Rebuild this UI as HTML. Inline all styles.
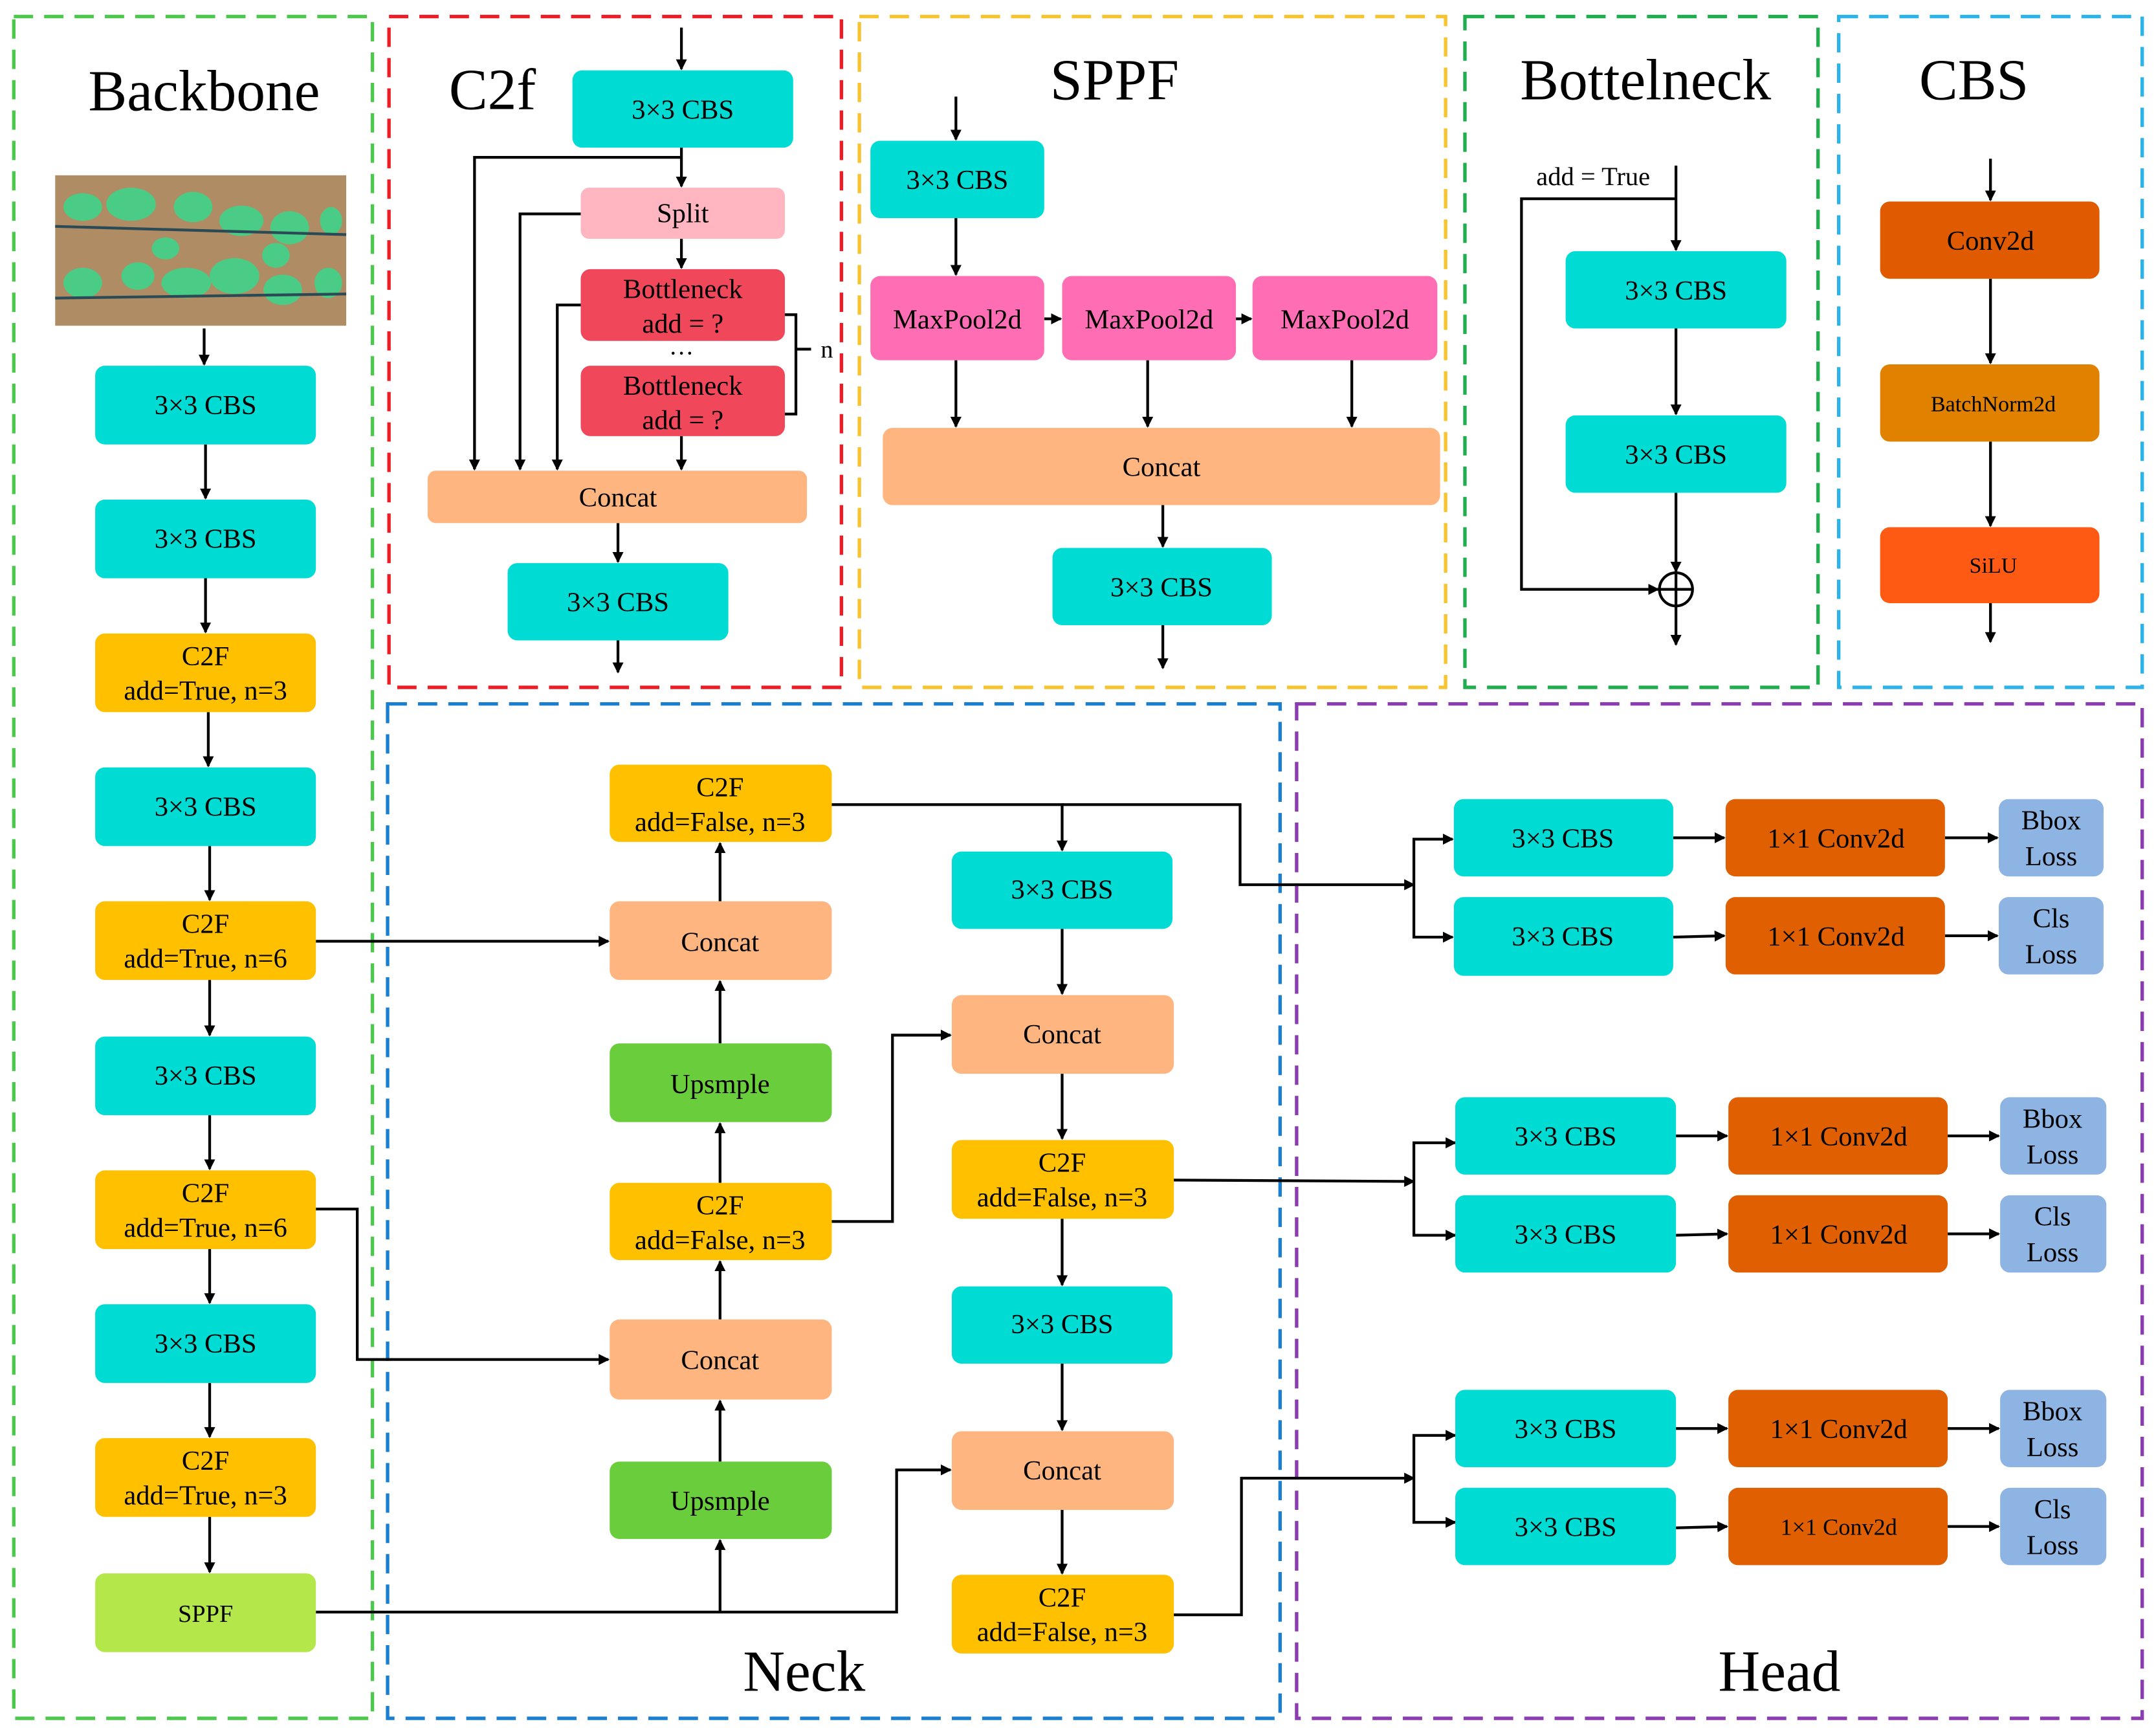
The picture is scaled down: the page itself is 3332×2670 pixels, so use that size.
<!DOCTYPE html>
<html><head><meta charset="utf-8"><style>html,body{margin:0;padding:0;background:#fff}svg{display:block}text{font-family:"Liberation Serif",serif}</style></head>
<body>
<svg xmlns="http://www.w3.org/2000/svg" width="3332" height="2670" viewBox="0 0 1563 1252" preserveAspectRatio="none" font-family="'Liberation Serif', serif">
<defs>
<marker id="a" markerWidth="8" markerHeight="8" refX="7" refY="4" orient="auto" markerUnits="userSpaceOnUse"><path d="M0,0 L8,4 L0,8 z" fill="#000"/></marker>
</defs>
<rect width="1563" height="1252" fill="#fff"/>
<g fill="none" stroke-width="2.5" stroke-dasharray="14,8">
<rect x="10" y="12" width="260" height="1233" stroke="#4cc94c"/>
<rect x="282" y="12" width="328" height="486" stroke="#ee1c24"/>
<rect x="623" y="12" width="425" height="486" stroke="#f7c32e"/>
<rect x="1062" y="12" width="256" height="486" stroke="#1eae4e"/>
<rect x="1333" y="12" width="220" height="486" stroke="#2bb3ea"/>
<rect x="281" y="510" width="647" height="735" stroke="#1a7fd1"/>
<rect x="940" y="510" width="613" height="735" stroke="#8a3cb0"/>
</g>
<g font-size="42" text-anchor="middle" fill="#000">
<text x="148" y="80">Backbone</text>
<text x="357" y="79">C2f</text>
<text x="808" y="72">SPPF</text>
<text x="1193" y="72">Bottelneck</text>
<text x="1431" y="72">CBS</text>
<text x="583" y="1225">Neck</text>
<text x="1290" y="1225">Head</text>
</g>
<!-- image -->
<rect x="40" y="127" width="211" height="109" fill="#b08c64"/>
<g fill="#3fd28a" opacity="0.9">
<ellipse cx="60" cy="150" rx="14" ry="10"/><ellipse cx="95" cy="148" rx="18" ry="12"/><ellipse cx="140" cy="150" rx="14" ry="11"/><ellipse cx="175" cy="160" rx="16" ry="11"/><ellipse cx="210" cy="165" rx="14" ry="12"/><ellipse cx="240" cy="160" rx="8" ry="10"/>
<ellipse cx="60" cy="205" rx="14" ry="11"/><ellipse cx="100" cy="200" rx="12" ry="10"/><ellipse cx="135" cy="205" rx="18" ry="11"/><ellipse cx="170" cy="200" rx="18" ry="13"/><ellipse cx="205" cy="210" rx="14" ry="11"/><ellipse cx="238" cy="205" rx="10" ry="11"/><ellipse cx="120" cy="180" rx="10" ry="8"/><ellipse cx="200" cy="185" rx="10" ry="9"/>
</g>
<line x1="40" y1="164" x2="251" y2="170" stroke="#2a4a55" stroke-width="2"/>
<line x1="40" y1="216" x2="251" y2="213" stroke="#2a4a55" stroke-width="2"/>
<g stroke="#000" stroke-width="2" fill="none" marker-end="url(#a)">
<line x1="148" y1="238" x2="148" y2="264"/>
<line x1="149" y1="322" x2="149" y2="361"/>
<line x1="149" y1="419" x2="149" y2="458"/>
<line x1="151" y1="516" x2="151" y2="555"/>
<line x1="152" y1="613" x2="152" y2="652"/>
<line x1="152" y1="710" x2="152" y2="750"/>
<line x1="152" y1="808" x2="152" y2="847"/>
<line x1="152" y1="905" x2="152" y2="944"/>
<line x1="152" y1="1002" x2="152" y2="1041"/>
<line x1="152" y1="1099" x2="152" y2="1139"/>
<line x1="494" y1="20" x2="494" y2="50"/>
<line x1="494" y1="107" x2="494" y2="135"/>
<polyline points="494,114 344,114 344,340"/>
<polyline points="421,155 377,155 377,340"/>
<polyline points="421,221 404,221 404,340"/>
<line x1="494" y1="173" x2="494" y2="194"/>
<line x1="494" y1="316" x2="494" y2="340"/>
<line x1="448" y1="379" x2="448" y2="407"/>
<line x1="448" y1="464" x2="448" y2="487"/>
<line x1="693" y1="70" x2="693" y2="101"/>
<line x1="693" y1="158" x2="693" y2="199"/>
<line x1="757" y1="231" x2="769" y2="231"/>
<line x1="896" y1="231" x2="907" y2="231"/>
<line x1="693" y1="261" x2="693" y2="309"/>
<line x1="832" y1="261" x2="832" y2="309"/>
<line x1="980" y1="261" x2="980" y2="309"/>
<line x1="843" y1="366" x2="843" y2="396"/>
<line x1="843" y1="453" x2="843" y2="484"/>
<line x1="1215" y1="120" x2="1215" y2="181"/>
<line x1="1215" y1="238" x2="1215" y2="300"/>
<line x1="1215" y1="357" x2="1215" y2="414"/>
<polyline points="1215,144 1103,144 1103,427 1202,427"/>
<line x1="1215" y1="439" x2="1215" y2="467"/>
<line x1="1443" y1="115" x2="1443" y2="145"/>
<line x1="1443" y1="202" x2="1443" y2="263"/>
<line x1="1443" y1="320" x2="1443" y2="381"/>
<line x1="1443" y1="437" x2="1443" y2="465"/>
<line x1="229" y1="682" x2="441" y2="682"/>
<polyline points="229,876 259,876 259,985 441,985"/>
<line x1="522" y1="653" x2="522" y2="611"/>
<line x1="522" y1="756" x2="522" y2="711"/>
<line x1="522" y1="857" x2="522" y2="814"/>
<line x1="522" y1="956" x2="522" y2="914"/>
<line x1="522" y1="1059" x2="522" y2="1015"/>
<line x1="522" y1="1168" x2="522" y2="1116"/>
<polyline points="229,1168 650,1168 650,1065 689,1065"/>
<polyline points="603,583 770,583 770,616"/>
<polyline points="603,885 647,885 647,750 689,750"/>
<line x1="770" y1="673" x2="770" y2="720"/>
<line x1="770" y1="778" x2="770" y2="825"/>
<line x1="770" y1="883" x2="770" y2="931"/>
<line x1="770" y1="988" x2="770" y2="1036"/>
<line x1="770" y1="1094" x2="770" y2="1140"/>
<polyline points="770,583 899,583 899,641 1025,641"/>
<line x1="850" y1="855" x2="1025" y2="856"/>
<polyline points="850,1170 900,1170 900,1071 1025,1071"/>
<polyline points="1025,641 1025,608 1053,608" />
<polyline points="1025,641 1025,679 1053,679" />
<polyline points="1025,856 1025,828 1055,828" />
<polyline points="1025,856 1025,895 1055,895" />
<polyline points="1025,1071 1025,1040 1055,1040" />
<polyline points="1025,1071 1025,1103 1055,1103" />
<line x1="1213" y1="607" x2="1250" y2="607"/>
<line x1="1213" y1="679" x2="1250" y2="678"/>
<line x1="1410" y1="607" x2="1448" y2="607"/>
<line x1="1410" y1="678" x2="1448" y2="678"/>
<line x1="1215" y1="823" x2="1252" y2="823"/>
<line x1="1215" y1="895" x2="1252" y2="894"/>
<line x1="1412" y1="823" x2="1449" y2="823"/>
<line x1="1412" y1="894" x2="1449" y2="894"/>
<line x1="1215" y1="1035" x2="1252" y2="1035"/>
<line x1="1215" y1="1107" x2="1252" y2="1106"/>
<line x1="1412" y1="1035" x2="1449" y2="1035"/>
<line x1="1412" y1="1106" x2="1449" y2="1106"/>
</g>
<g stroke="#000" stroke-width="2" fill="none">
<circle cx="1215" cy="427" r="12"/>
<line x1="1203" y1="427" x2="1227" y2="427"/><line x1="1215" y1="415" x2="1215" y2="439"/>
<polyline points="569,228 577,228 577,300 569,300"/>
<line x1="577" y1="253" x2="588" y2="253"/>
</g>
<text x="595" y="259" font-size="18">n</text>
<text x="494" y="262" font-size="18" text-anchor="middle">···</text>
<text x="1155" y="134" font-size="19" text-anchor="middle">add = True</text>
<g font-size="20" text-anchor="middle" fill="#000">
<g fill="#00dcd4">
<rect x="69" y="265" width="160" height="57" rx="7"/><rect x="69" y="362" width="160" height="57" rx="7"/>
<rect x="69" y="556" width="160" height="57" rx="7"/><rect x="69" y="751" width="160" height="57" rx="7"/>
<rect x="69" y="945" width="160" height="57" rx="7"/>
<rect x="415" y="51" width="160" height="56" rx="7"/><rect x="368" y="408" width="160" height="56" rx="7"/>
<rect x="631" y="102" width="126" height="56" rx="7"/><rect x="763" y="397" width="159" height="56" rx="7"/>
<rect x="1135" y="182" width="160" height="56" rx="7"/><rect x="1135" y="301" width="160" height="56" rx="7"/>
<rect x="690" y="617" width="160" height="56" rx="7"/><rect x="690" y="932" width="160" height="56" rx="7"/>
<rect x="1054" y="579" width="159" height="56" rx="7"/><rect x="1054" y="650" width="159" height="57" rx="7"/>
<rect x="1055" y="795" width="160" height="56" rx="7"/><rect x="1055" y="866" width="160" height="56" rx="7"/>
<rect x="1055" y="1007" width="160" height="56" rx="7"/><rect x="1055" y="1078" width="160" height="56" rx="7"/>
</g>
<g fill="#ffc000">
<rect x="69" y="459" width="160" height="57" rx="7"/><rect x="69" y="653" width="160" height="57" rx="7"/>
<rect x="69" y="848" width="160" height="57" rx="7"/><rect x="69" y="1042" width="160" height="57" rx="7"/>
<rect x="442" y="554" width="161" height="56" rx="7"/><rect x="442" y="857" width="161" height="56" rx="7"/>
<rect x="690" y="826" width="161" height="57" rx="7"/><rect x="690" y="1141" width="161" height="57" rx="7"/>
</g>
<g fill="#ffb580">
<rect x="310" y="341" width="275" height="38" rx="6"/><rect x="640" y="310" width="404" height="56" rx="7"/>
<rect x="442" y="653" width="161" height="57" rx="7"/><rect x="442" y="956" width="161" height="58" rx="7"/>
<rect x="690" y="721" width="161" height="57" rx="7"/><rect x="690" y="1037" width="161" height="57" rx="7"/>
</g>
<rect x="421" y="136" width="148" height="37" rx="6" fill="#ffb6c1"/>
<rect x="421" y="195" width="148" height="52" rx="7" fill="#f0475a"/><rect x="421" y="265" width="148" height="51" rx="7" fill="#f0475a"/>
<g fill="#ff6eb4"><rect x="631" y="200" width="126" height="61" rx="7"/><rect x="770" y="200" width="126" height="61" rx="7"/><rect x="908" y="200" width="134" height="61" rx="7"/></g>
<g fill="#6acd3c"><rect x="442" y="756" width="161" height="57" rx="7"/><rect x="442" y="1059" width="161" height="56" rx="7"/></g>
<rect x="69" y="1140" width="160" height="57" rx="7" fill="#b4e84a"/>
<rect x="1363" y="146" width="159" height="56" rx="7" fill="#e05a00"/>
<rect x="1363" y="264" width="159" height="56" rx="7" fill="#e08200"/>
<rect x="1363" y="382" width="159" height="55" rx="7" fill="#ff5a14"/>
<g fill="#e05f00">
<rect x="1251" y="579" width="159" height="56" rx="7"/><rect x="1251" y="650" width="159" height="56" rx="7"/>
<rect x="1253" y="795" width="159" height="56" rx="7"/><rect x="1253" y="866" width="159" height="56" rx="7"/>
<rect x="1253" y="1007" width="159" height="56" rx="7"/><rect x="1253" y="1078" width="159" height="56" rx="7"/>
</g>
<g fill="#8db4e2">
<rect x="1449" y="579" width="76" height="56" rx="7"/><rect x="1449" y="650" width="76" height="56" rx="7"/>
<rect x="1450" y="795" width="77" height="56" rx="7"/><rect x="1450" y="866" width="77" height="56" rx="7"/>
<rect x="1450" y="1007" width="77" height="56" rx="7"/><rect x="1450" y="1078" width="77" height="56" rx="7"/>
</g>
<text x="149" y="300">3×3 CBS</text><text x="149" y="397">3×3 CBS</text>
<text x="149" y="482">C2F</text><text x="149" y="507">add=True, n=3</text>
<text x="149" y="591">3×3 CBS</text>
<text x="149" y="676">C2F</text><text x="149" y="701">add=True, n=6</text>
<text x="149" y="786">3×3 CBS</text>
<text x="149" y="871">C2F</text><text x="149" y="896">add=True, n=6</text>
<text x="149" y="980">3×3 CBS</text>
<text x="149" y="1065">C2F</text><text x="149" y="1090">add=True, n=3</text>
<text x="149" y="1175" font-size="18">SPPF</text>
<text x="495" y="86">3×3 CBS</text>
<text x="495" y="161">Split</text>
<text x="495" y="216">Bottleneck</text><text x="495" y="241">add = ?</text>
<text x="495" y="286">Bottleneck</text><text x="495" y="311">add = ?</text>
<text x="448" y="367">Concat</text>
<text x="448" y="443">3×3 CBS</text>
<text x="694" y="137">3×3 CBS</text>
<text x="694" y="238">MaxPool2d</text><text x="833" y="238">MaxPool2d</text><text x="975" y="238">MaxPool2d</text>
<text x="842" y="345">Concat</text>
<text x="842" y="432">3×3 CBS</text>
<text x="1215" y="217">3×3 CBS</text><text x="1215" y="336">3×3 CBS</text>
<text x="1443" y="181">Conv2d</text>
<text x="1445" y="298" font-size="16">BatchNorm2d</text>
<text x="1445" y="415" font-size="16">SiLU</text>
<text x="522" y="577">C2F</text><text x="522" y="602">add=False, n=3</text>
<text x="522" y="689">Concat</text>
<text x="522" y="792">Upsmple</text>
<text x="522" y="880">C2F</text><text x="522" y="905">add=False, n=3</text>
<text x="522" y="992">Concat</text>
<text x="522" y="1094">Upsmple</text>
<text x="770" y="651">3×3 CBS</text>
<text x="770" y="756">Concat</text>
<text x="770" y="849">C2F</text><text x="770" y="874">add=False, n=3</text>
<text x="770" y="966">3×3 CBS</text>
<text x="770" y="1072">Concat</text>
<text x="770" y="1164">C2F</text><text x="770" y="1189">add=False, n=3</text>
<text x="1133" y="614">3×3 CBS</text><text x="1133" y="685">3×3 CBS</text>
<text x="1331" y="614">1×1 Conv2d</text><text x="1331" y="685">1×1 Conv2d</text>
<text x="1487" y="601">Bbox</text><text x="1487" y="627">Loss</text>
<text x="1487" y="672">Cls</text><text x="1487" y="698">Loss</text>
<text x="1135" y="830">3×3 CBS</text><text x="1135" y="901">3×3 CBS</text>
<text x="1333" y="830">1×1 Conv2d</text><text x="1333" y="901">1×1 Conv2d</text>
<text x="1488" y="817">Bbox</text><text x="1488" y="843">Loss</text>
<text x="1488" y="888">Cls</text><text x="1488" y="914">Loss</text>
<text x="1135" y="1042">3×3 CBS</text><text x="1135" y="1113">3×3 CBS</text>
<text x="1333" y="1042">1×1 Conv2d</text><text x="1333" y="1112" font-size="17">1×1 Conv2d</text>
<text x="1488" y="1029">Bbox</text><text x="1488" y="1055">Loss</text>
<text x="1488" y="1100">Cls</text><text x="1488" y="1126">Loss</text>
</g>
</svg>
</body></html>
